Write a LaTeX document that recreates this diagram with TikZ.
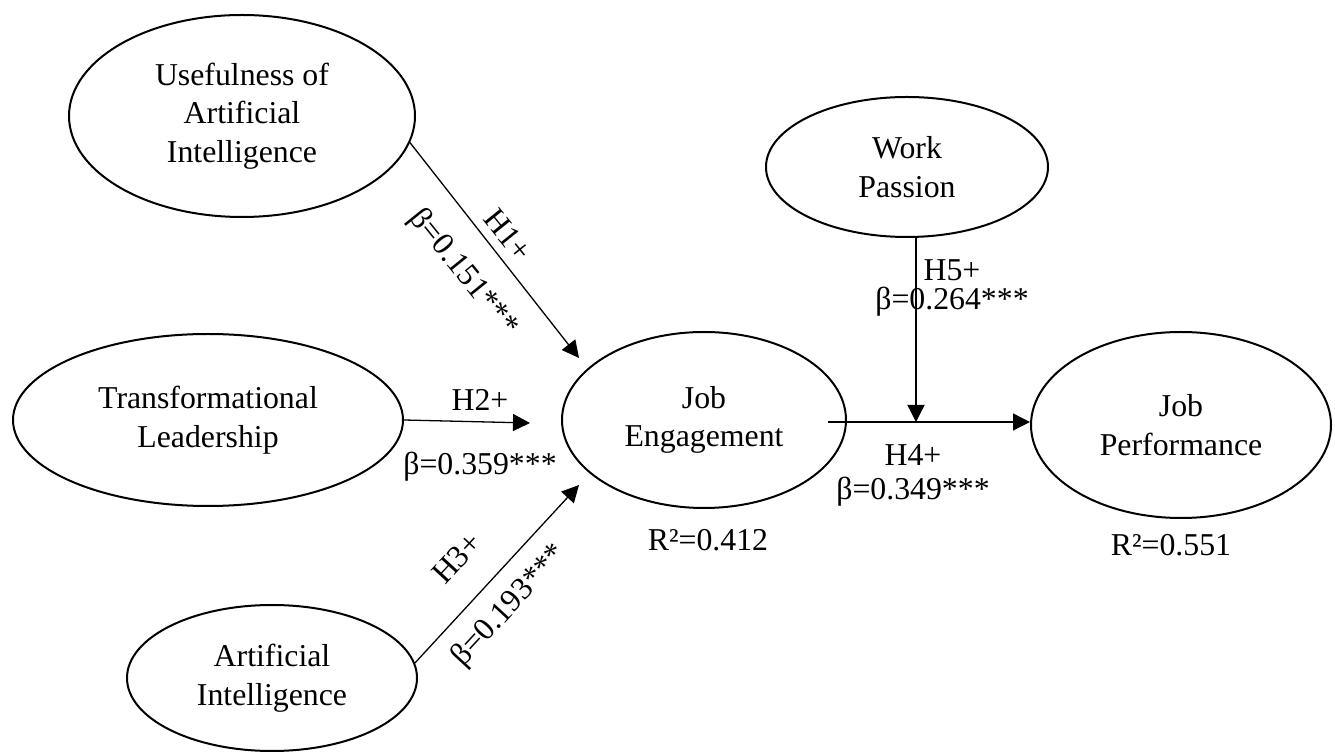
\documentclass[tikz,border=0pt]{standalone}
\usepackage{fontspec}
\setmainfont{Liberation Serif}
\usetikzlibrary{arrows.meta,shapes.geometric}
\begin{document}
\begin{tikzpicture}[x=0.5pt,y=-0.5pt,
  latent/.style={ellipse, draw, line width=1pt, inner sep=0pt, align=center,
    font=\fontsize{15.9}{19.3}\selectfont},
  lbl/.style={inner sep=0pt, font=\fontsize{15.9}{19.3}\selectfont},
  hyp/.style={line width=0.65pt, -{Triangle[length=8.5pt,width=8.5pt]}}]
\useasboundingbox (0,0) rectangle (1335,753);
% constructs
\node[latent, minimum width=173pt, minimum height=101pt] (u) at (242,116) {Usefulness of\\Artificial\\Intelligence};
\node[latent, minimum width=195pt, minimum height=86pt] (tl) at (208,420) {Transformational\\Leadership};
\node[latent, minimum width=145pt, minimum height=73pt] (ai) at (272,678) {Artificial\\Intelligence};
\node[latent, minimum width=142pt, minimum height=88pt] (je) at (704,420) {Job\\Engagement};
\node[latent, minimum width=141pt, minimum height=70pt] (wp) at (907,167) {Work\\Passion};
\node[latent, minimum width=150pt, minimum height=93pt] (jp) at (1181,425) {Job\\Performance};
% free ends
\coordinate (t1) at (579,358);
\coordinate (t2) at (530,423);
\coordinate (t3) at (579,485);
\coordinate (s4) at (828,422);
\coordinate (t5) at (916,422);
% paths
\draw[hyp] (u.-9) -- (t1);
\draw[hyp] (tl.east) -- (t2);
\draw[hyp] (ai.6) -- (t3);
\draw[hyp] (s4) -- (s4 -| jp.west);
\draw[hyp] (wp.south -| t5) -- (t5);
% labels
\node[lbl, rotate=-51.1] (l1a) at (508,235) {H1+};
\node[lbl, rotate=-51.1] (l1b) at (463,273) {β=0.151***};
\node[lbl] (l2a) at (480,400) {H2+};
\node[lbl] (l2b) at (480,467) {β=0.359***};
\node[lbl, rotate=47.3] (l3a) at (457,558) {H3+};
\node[lbl, rotate=47.3] (l3b) at (510,606) {β=0.193***};
\node[lbl] (l4a) at (913,455) {H4+};
\node[lbl] (l4b) at (913,492) {β=0.349***};
\node[lbl] (l5a) at (952,270) {H5+};
\node[lbl] (l5b) at (952,302) {β=0.264***};
\node[lbl] (r1) at (708,540) {R²=0.412};
\node[lbl] (r2) at (1171,545) {R²=0.551};
\end{tikzpicture}
\end{document}
